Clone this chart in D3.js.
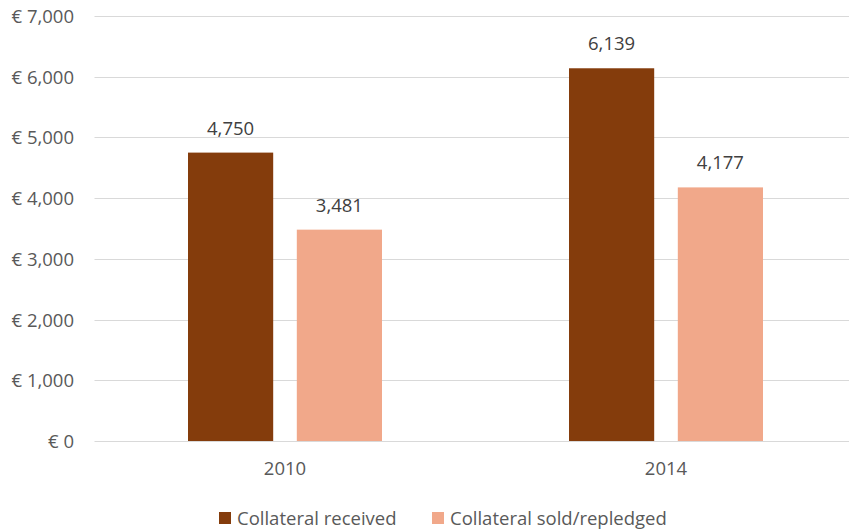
<!DOCTYPE html>
<html><head><meta charset="utf-8">
<script src="https://cdn.jsdelivr.net/npm/d3@7"></script>
<style>body{margin:0;background:#fff}svg{display:block}text{font-family:"Open Sans",sans-serif;fill:#595959}</style>
</head><body><svg id="c" width="849" height="531"></svg>
<script>
const categories = ["2010", "2014"];
const seriesNames = ["Collateral received", "Collateral sold/repledged"];
const received = [4750, 6139];
const sold = [3481, 4177];
const yTicks = [0, 1000, 2000, 3000, 4000, 5000, 6000, 7000];
const colors = ["#843C0C", "#F1A88A"];

const svg = d3.select("#c");
const W = 849, H = 531;
const x0 = 94.5, x1 = 856.5, yTop = 16, yBot = 441;
const FS = 18.5;
const x = d3.scaleBand().domain(categories).range([x0, x1]).paddingInner(0).paddingOuter(0);
const y = d3.scaleLinear().domain([0, 7000]).range([yBot, yTop]);
const sub = d3.scaleBand().domain(seriesNames).range([93.5, 381 - 93.5]).paddingInner(0.217);

const fmt = d3.format(",");
// grid
svg.append("g").selectAll("line").data(yTicks).join("line")
  .attr("x1", x0).attr("x2", W).attr("y1", d => Math.round(y(d)) + 0.5).attr("y2", d => Math.round(y(d)) + 0.5)
  .attr("stroke", "#D9D9D9").attr("stroke-width", 1.2);
// y labels
svg.append("g").selectAll("text").data(yTicks).join("text")
  .attr("x", 74).attr("y", d => y(d) + 7).attr("text-anchor", "end").attr("font-size", FS)
  .text(d => "€ " + fmt(d));

const series = [received, sold];
series.forEach((vals, si) => {
  const g = svg.append("g");
  g.selectAll("rect").data(categories).join("rect")
    .attr("x", (c) => x(c) + sub(seriesNames[si]))
    .attr("width", sub.bandwidth())
    .attr("y", (c, i) => y(vals[i]))
    .attr("height", (c, i) => yBot - y(vals[i]))
    .attr("fill", colors[si]);
  g.selectAll("text").data(categories).join("text")
    .attr("x", c => x(c) + sub(seriesNames[si]) + sub.bandwidth() / 2)
    .attr("y", (c, i) => y(vals[i]) - 18)
    .attr("text-anchor", "middle").attr("font-size", FS).style("fill", "#404040")
    .text((c, i) => fmt(vals[i]));
});
// x labels
svg.append("g").selectAll("text").data(categories).join("text")
  .attr("x", c => x(c) + x.bandwidth() / 2).attr("y", 475).attr("text-anchor", "middle").attr("font-size", FS)
  .text(d => d);
// legend
const legX = [219, 432];
const lg = svg.append("g");
seriesNames.forEach((s, i) => {
  lg.append("rect").attr("x", legX[i]).attr("y", 512).attr("width", 12).attr("height", 12).attr("fill", colors[i]);
  lg.append("text").attr("x", legX[i] + 18).attr("y", 525).attr("font-size", FS).text(s);
});
</script></body></html>
